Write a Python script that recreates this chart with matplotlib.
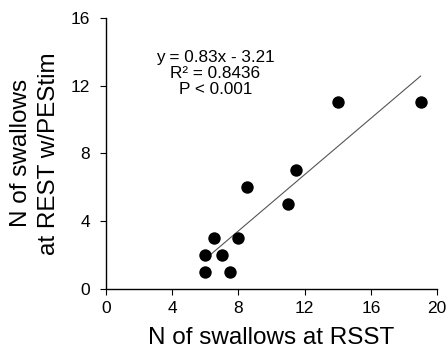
import matplotlib
matplotlib.use("Agg")
import matplotlib.pyplot as plt
import numpy as np

plt.rcParams['font.family'] = ['Liberation Sans', 'DejaVu Sans']

# Data
rsst = [6, 7.5, 6, 7, 6.5, 8, 8.5, 11, 11.5, 14, 19]
rest_pestim = [1, 1, 2, 2, 3, 3, 6, 5, 7, 11, 11]
slope, intercept = 0.83, -3.21
xticks = [0, 4, 8, 12, 16, 20]
yticks = [0, 4, 8, 12, 16]

fig = plt.figure(figsize=(4.46, 3.52), dpi=100)
ax = fig.add_axes([0.2377, 0.179, 0.7426, 0.7707])

xl = np.array([min(rsst), max(rsst)])
ax.plot(xl, slope * xl + intercept, color='#555555', lw=0.8, zorder=2)
ax.scatter(rsst, rest_pestim, s=80, color='black', zorder=3, linewidths=0)

ax.set_xlim(0, 20)
ax.set_ylim(0, 16)
ax.set_xticks(xticks)
ax.set_yticks(yticks)
for s in ['top', 'right']:
    ax.spines[s].set_visible(False)
for s in ['left', 'bottom']:
    ax.spines[s].set_linewidth(1.0)
ax.tick_params(direction='out', length=4.5, width=0.8, labelsize=12.5, color='black')
ax.tick_params(axis='y', pad=7)
ax.tick_params(axis='x', pad=4)

ax.set_xlabel('N of swallows at RSST', fontsize=17.5, labelpad=8)
ax.set_ylabel('N of swallows\nat REST w/PEStim', fontsize=17.5, labelpad=8, linespacing=1.3)

ax.text(0.33, 0.88, 'y = 0.83x - 3.21\nR² = 0.8436\nP < 0.001', transform=ax.transAxes,
        ha='center', va='top', fontsize=12.3, linespacing=1.07)

fig.savefig('out.png', dpi=100)
